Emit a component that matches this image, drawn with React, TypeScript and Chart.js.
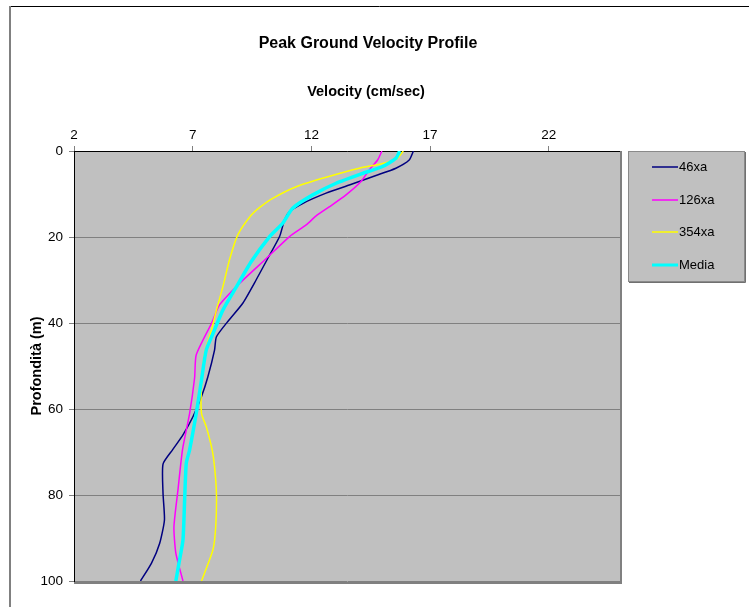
import React, { useEffect, useRef } from "react";
import { Chart, registerables } from "chart.js";

Chart.register(...registerables);

const chartTitle = "Peak Ground Velocity Profile";
const xAxisTitle = "Velocity (cm/sec)";
const yAxisTitle = "Profondità (m)";

const xTickValues = [2, 7, 12, 17, 22];
const yTickValues = [0, 20, 40, 60, 80, 100];

const seriesNames = ["46xa", "126xa", "354xa", "Media"];
const seriesColors = ["#000080", "#FF00FF", "#FFFF00", "#00FFFF"];

const depth46xa = [0, 2.1, 4.0, 5.7, 7.9, 9.8, 12.2, 14.1, 16, 19.9, 25, 30, 35.4, 39.3, 43.2, 46.3, 52.5, 57.1, 61.8, 66, 69.5, 72.8, 79.6, 85.8, 91.2, 95.9, 100];
const vel46xa = [16.3, 16.12, 15.56, 14.72, 13.6, 12.62, 11.63, 11.08, 10.87, 10.66, 10.16, 9.67, 9.11, 8.53, 8.0, 7.92, 7.64, 7.37, 7.01, 6.59, 6.15, 5.75, 5.75, 5.81, 5.61, 5.26, 4.8];

const depth126xa = [0, 2.1, 4.4, 7.1, 10.2, 13, 15.1, 17.2, 19.9, 25, 30.8, 35.8, 40, 47.4, 52.8, 61, 69.5, 78.8, 87.4, 93.5, 100];
const vel126xa = [14.97, 14.79, 14.44, 14.09, 13.46, 12.75, 12.2, 11.78, 11.08, 10.1, 8.97, 8.13, 7.8, 7.15, 7.08, 6.87, 6.57, 6.38, 6.21, 6.29, 6.59];

const depth354xa = [0, 1.7, 2.9, 4, 6.1, 8.3, 11, 13, 14.9, 19.5, 25.3, 31.6, 37, 41.6, 47, 54.8, 61, 64.1, 69.5, 73.4, 79.6, 87.4, 92.8, 100];
const vel354xa = [15.87, 15.63, 15.0, 14.02, 12.62, 11.36, 10.37, 9.85, 9.47, 8.9, 8.55, 8.27, 8.0, 7.79, 7.5, 7.37, 7.37, 7.57, 7.82, 7.92, 8.0, 7.97, 7.85, 7.37];

const depthMedia = [0, 1.7, 3.6, 5.2, 7.5, 10.2, 13.3, 16.8, 19.9, 25.7, 31.6, 37, 41.6, 46.3, 53.3, 61, 69.5, 72.6, 81.2, 90.5, 95.9, 100];
const velMedia = [15.72, 15.56, 15.0, 14.16, 13.04, 12.06, 11.21, 10.79, 10.24, 9.47, 8.84, 8.27, 7.92, 7.57, 7.37, 7.15, 6.87, 6.73, 6.66, 6.59, 6.42, 6.29];

const seriesDepths = [depth46xa, depth126xa, depth354xa, depthMedia];
const seriesVels = [vel46xa, vel126xa, vel354xa, velMedia];
const seriesWidths = [1.5, 1.5, 1.5, 3.5];

const FONT = "'Liberation Sans', Arial, sans-serif";

const decorPlugin = {
  id: "decor",
  beforeDraw(chart: any) {
    const { ctx, chartArea } = chart;
    ctx.save();
    ctx.fillStyle = "#C0C0C0";
    ctx.fillRect(chartArea.left, chartArea.top, chartArea.right - chartArea.left, chartArea.bottom - chartArea.top);
    // outer frame
    ctx.strokeStyle = "#000000";
    ctx.lineWidth = 1;
    ctx.beginPath();
    ctx.moveTo(10, 6.5);
    ctx.lineTo(749, 6.5);
    ctx.stroke();
    ctx.strokeStyle = "#808080";
    ctx.lineWidth = 2;
    ctx.beginPath();
    ctx.moveTo(10, 6);
    ctx.lineTo(10, 607);
    ctx.stroke();
    ctx.restore();
  },
  afterDraw(chart: any) {
    const { ctx, chartArea } = chart;
    ctx.save();
    // right & bottom plot edges
    ctx.strokeStyle = "#808080";
    ctx.lineWidth = 2;
    ctx.beginPath();
    ctx.moveTo(chartArea.right + 1, chartArea.top);
    ctx.lineTo(chartArea.right + 1, chartArea.bottom + 2);
    ctx.lineTo(chartArea.left, chartArea.bottom + 2);
    ctx.stroke();

    // titles
    ctx.fillStyle = "#000000";
    ctx.textAlign = "center";
    ctx.textBaseline = "middle";
    ctx.font = `bold 16px ${FONT}`;
    ctx.fillText(chartTitle, 368, 44);
    ctx.font = `bold 14.5px ${FONT}`;
    ctx.fillText(xAxisTitle, 366, 92);
    ctx.save();
    ctx.translate(37, (chartArea.top + chartArea.bottom) / 2);
    ctx.rotate(-Math.PI / 2);
    ctx.fillText(yAxisTitle, 0, 0);
    ctx.restore();

    // legend
    const lx = 628, ly = 151, lw = 116, lh = 130;
    ctx.fillStyle = "#C0C0C0";
    ctx.fillRect(lx, ly, lw, lh);
    ctx.strokeStyle = "#8a8a8a";
    ctx.lineWidth = 1;
    ctx.strokeRect(lx + 0.5, ly + 0.5, lw, lh);
    ctx.strokeStyle = "#707070";
    ctx.beginPath();
    ctx.moveTo(lx + lw + 1.5, ly + 1);
    ctx.lineTo(lx + lw + 1.5, ly + lh + 1.5);
    ctx.lineTo(lx + 1, ly + lh + 1.5);
    ctx.stroke();
    const rows = [167, 200, 232, 265];
    ctx.font = `13px ${FONT}`;
    ctx.textAlign = "left";
    ctx.textBaseline = "middle";
    seriesNames.forEach((name, i) => {
      ctx.strokeStyle = seriesColors[i];
      ctx.lineWidth = i === 3 ? 3 : 1.5;
      ctx.beginPath();
      ctx.moveTo(652, rows[i]);
      ctx.lineTo(678, rows[i]);
      ctx.stroke();
      ctx.fillStyle = "#000000";
      ctx.fillText(name, 679, rows[i]);
    });
    ctx.restore();
  },
};

export default function App() {
  const canvasRef = useRef<HTMLCanvasElement | null>(null);

  useEffect(() => {
    if (!canvasRef.current) return;
    const datasets = seriesNames.map((name, i) => ({
      label: name,
      data: seriesDepths[i].map((d, j) => ({ x: seriesVels[i][j], y: d })),
      borderColor: seriesColors[i],
      backgroundColor: seriesColors[i],
      borderWidth: seriesWidths[i],
      showLine: true,
      pointRadius: 0,
      tension: 0.2,
      fill: false,
      order: seriesNames.length - i,
    }));
    const chart = new Chart(canvasRef.current, {
      type: "scatter",
      data: { datasets },
      options: {
        animation: false,
        responsive: false,
        devicePixelRatio: 1,
        layout: { padding: { left: 10, top: 0, right: 129, bottom: 26 } },
        plugins: {
          legend: { display: false },
          title: { display: false },
          tooltip: { enabled: false },
        },
        scales: {
          x: {
            type: "linear",
            position: "top",
            min: 2,
            max: 25,
            afterBuildTicks: (scale: any) => {
              scale.ticks = xTickValues.map((v) => ({ value: v }));
            },
            afterFit: (scale: any) => {
              scale.height = 151;
            },
            grid: { drawOnChartArea: false, tickLength: 5, color: "#808080" },
            border: { color: "#000000", width: 1 },
            ticks: {
              color: "#000000",
              font: { family: FONT, size: 13.5 },
              padding: 3,
              maxRotation: 0,
            },
          },
          y: {
            type: "linear",
            reverse: true,
            min: 0,
            max: 100,
            afterBuildTicks: (scale: any) => {
              scale.ticks = yTickValues.map((v) => ({ value: v }));
            },
            afterFit: (scale: any) => {
              scale.width = 64;
            },
            grid: { color: "#808080", tickLength: 5, lineWidth: 1 },
            border: { color: "#000000", width: 1 },
            ticks: {
              color: "#000000",
              font: { family: FONT, size: 13.5 },
              padding: 6,
            },
          },
        },
      },
      plugins: [decorPlugin],
    } as any);
    return () => chart.destroy();
  }, []);

  return (
    <div style={{ position: "absolute", left: 0, top: 0, width: 749, height: 607, background: "#ffffff" }}>
      <canvas ref={canvasRef} width={749} height={607} style={{ display: "block" }} />
    </div>
  );
}
